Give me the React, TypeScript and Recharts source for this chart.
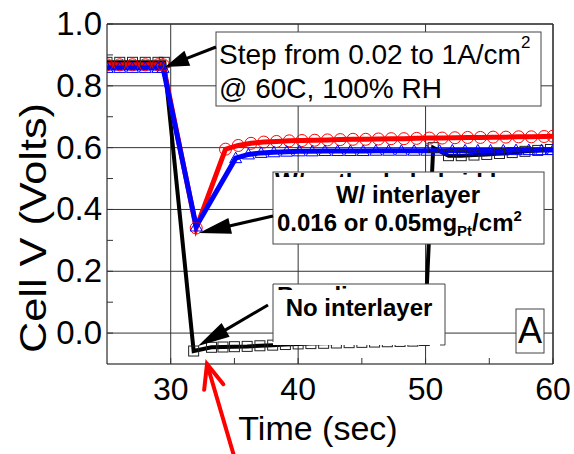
import { LineChart, Line, XAxis, YAxis, ReferenceLine, ReferenceArea } from 'recharts'

const FONT = '"Liberation Sans", Arial, Helvetica, sans-serif'

// axis ticks
const xTicks = [30, 35, 40, 45, 50, 55, 60]
const xMajor = [30, 40, 50, 60]
const yTicks = [0, 0.1, 0.2, 0.3, 0.4, 0.5, 0.6, 0.7, 0.8, 0.9, 1.0]
const yMajor = [0, 0.2, 0.4, 0.6, 0.8, 1.0]

// baseline MEA (no interlayer): time in s, cell voltage in V
const baseT = [25, 26, 27, 28, 29, 29.5, 31.8, 33.2, 34.1, 35, 36, 37, 38, 39, 40, 41, 42, 43, 44, 45, 46, 47, 48, 49, 49.9, 50.6, 51.8, 52.8, 53.8, 54.8, 55.8, 56.8, 57.8, 58.8, 59.8]
const baseV = [0.876, 0.876, 0.876, 0.876, 0.876, 0.876, -0.058, -0.046, -0.045, -0.044, -0.043, -0.041, -0.039, -0.037, -0.035, -0.034, -0.033, -0.032, -0.031, -0.030, -0.029, -0.028, -0.027, -0.026, -0.024, 0.600, 0.574, 0.574, 0.576, 0.578, 0.581, 0.584, 0.588, 0.591, 0.594]

// interlayer 0.05 mgPt/cm2
const redT = [25, 26, 27, 28, 29, 29.4, 32, 34.3, 35.3, 36.3, 37.3, 38.3, 39.3, 40.3, 41.3, 42.3, 43.3, 44.3, 45.3, 46.3, 47.3, 48.3, 49.3, 50.3, 51.3, 52.3, 53.3, 54.3, 55.3, 56.3, 57.3, 58.3, 59.3, 60]
const redV = [0.868, 0.868, 0.868, 0.868, 0.868, 0.868, 0.34, 0.595, 0.607, 0.614, 0.618, 0.620, 0.622, 0.623, 0.624, 0.625, 0.626, 0.627, 0.627, 0.628, 0.629, 0.629, 0.630, 0.631, 0.631, 0.632, 0.633, 0.633, 0.634, 0.634, 0.635, 0.635, 0.636, 0.637]

// interlayer 0.016 mgPt/cm2
const blueT = [25, 26, 27, 28, 29, 29.4, 32, 35.1, 36.1, 37.1, 38.1, 39.1, 40.1, 41.1, 42.1, 43.1, 44.1, 45.1, 46.1, 47.1, 48.1, 49.1, 50.1, 51.1, 52.1, 53.1, 54.1, 55.1, 56.1, 57.1, 58.1, 59.1, 60]
const blueV = [0.858, 0.858, 0.858, 0.858, 0.858, 0.858, 0.345, 0.566, 0.578, 0.583, 0.585, 0.587, 0.588, 0.588, 0.589, 0.589, 0.589, 0.589, 0.590, 0.590, 0.590, 0.590, 0.590, 0.590, 0.591, 0.591, 0.591, 0.591, 0.591, 0.592, 0.592, 0.592, 0.592]

const rows = (t: number[], v: number[]) => t.map((x, i) => ({ t: x, v: v[i] }))

const Circle = (p: any) => (
  <circle key={p.index} cx={p.cx} cy={p.cy} r={6} fill="none" stroke="#ff0000" strokeWidth={1} />
)
const Tri = (p: any) => (
  <polygon key={p.index} points={`${p.cx},${p.cy - 6} ${p.cx - 6},${p.cy + 4.5} ${p.cx + 6},${p.cy + 4.5}`} fill="none" stroke="#0000ff" strokeWidth={1} />
)
const Square = (p: any) => (
  <rect key={p.index} x={p.cx - 5} y={p.cy - 5} width={10} height={10} fill="none" stroke="#222" strokeWidth={1} />
)

const XTick = ({ x, y, payload }: any) => {
  const v = payload.value
  return (
    <g>
      <line x1={x} y1={y} x2={x} y2={y - 6} stroke="#333" />
      {xMajor.includes(v) && (
        <text x={x} y={y + 36} textAnchor="middle" fontSize={32} fontFamily={FONT} fill="#000">{v}</text>
      )}
    </g>
  )
}

const YTick = ({ x, y, payload }: any) => {
  const v = payload.value
  const major = yMajor.some(m => Math.abs(m - v) < 1e-6)
  return (
    <g>
      <line x1={x} y1={y} x2={x + 6} y2={y} stroke="#333" />
      {major && (
        <text x={x - 5} y={y + 11} textAnchor="end" fontSize={33} fontFamily={FONT} fill="#000">{v.toFixed(1)}</text>
      )}
    </g>
  )
}

function Arrow({ x1, y1, x2, y2, len = 26, half = 8, w = 3 }: any) {
  const d = Math.hypot(x2 - x1, y2 - y1)
  const ux = (x2 - x1) / d, uy = (y2 - y1) / d
  const bx = x2 - ux * len, by = y2 - uy * len
  return (
    <g>
      <line x1={x1} y1={y1} x2={bx + ux * 2} y2={by + uy * 2} stroke="#000" strokeWidth={w} />
      <polygon points={`${x2},${y2} ${bx - uy * half},${by + ux * half} ${bx + uy * half},${by - ux * half}`} fill="#000" />
    </g>
  )
}

function OpenArrow({ x1, y1, x2, y2, len = 24, half = 10, w = 4, color = '#ff0000' }: any) {
  const d = Math.hypot(x2 - x1, y2 - y1)
  const ux = (x2 - x1) / d, uy = (y2 - y1) / d
  const bx = x2 - ux * len, by = y2 - uy * len
  return (
    <g stroke={color} strokeWidth={w} strokeLinecap="round" fill="none">
      <line x1={x1} y1={y1} x2={x2} y2={y2} />
      <polyline points={`${bx - uy * half},${by + ux * half} ${x2},${y2} ${bx + uy * half},${by - ux * half}`} />
    </g>
  )
}

// boxed labels, arrows and axis titles drawn over the plot
function Notes() {
  return (
    <svg width={574} height={454} style={{ position: 'absolute', left: 0, top: 0, pointerEvents: 'none' }} fontFamily={FONT}>
      <defs>
        <clipPath id="oldTop1"><rect x={274} y={173} width={270} height={4} /></clipPath>
        <clipPath id="oldTop2"><rect x={274} y={285} width={170} height={5} /></clipPath>
      </defs>

      {/* step conditions */}
      <rect x={216} y={32} width={325} height={74} fill="#fff" stroke="#444" strokeWidth={1} />
      <text x={219} y={64} fontSize={28} fill="#000">Step from 0.02 to 1A/cm<tspan fontSize={17} dy={-16}>2</tspan></text>
      <text x={219} y={98} fontSize={28} fill="#000">@ 60C, 100% RH</text>
      <Arrow x1={216} y1={47} x2={165} y2={67} len={24} half={8} />

      {/* interlayer runs; the old caption only peeks out along the top edge */}
      <rect x={273} y={172} width={271} height={72} fill="#fff" stroke="#444" strokeWidth={1} />
      <text x={275} y={190} fontSize={24} fontWeight="bold" fill="#000" clipPath="url(#oldTop1)">W/ cathode hybrid layer</text>
      <text x={408} y={203} fontSize={24} fontWeight="bold" textAnchor="middle" fill="#000">W/ interlayer</text>
      <text x={277} y={231} fontSize={24} fontWeight="bold" fill="#000">
        0.016 or 0.05mg<tspan fontSize={15} dy={5}>Pt</tspan><tspan dy={-5}>/cm</tspan><tspan fontSize={15} dy={-10}>2</tspan>
      </text>
      <Arrow x1={273} y1={216} x2={199} y2={233} len={32} half={8} />

      {/* baseline run */}
      <rect x={273} y={284} width={172} height={61} fill="#fff" />
      <polyline points="273,342 273,284 445,284 445,345 440,345" fill="none" stroke="#444" strokeWidth={1} />
      <text x={277} y={304} fontSize={24} fontWeight="bold" fill="#000" clipPath="url(#oldTop2)">Baseline</text>
      <text x={359} y={316} fontSize={24} fontWeight="bold" textAnchor="middle" fill="#000">No interlayer</text>
      <Arrow x1={268} y1={305} x2={198} y2={346} len={32} half={8} />

      {/* panel letter */}
      <rect x={516} y={309} width={28} height={44} fill="#fff" stroke="#444" strokeWidth={1} />
      <text x={530} y={343} fontSize={36} textAnchor="middle" fill="#000">A</text>

      {/* axis titles */}
      <text x={318} y={440} fontSize={34} textAnchor="middle" fill="#000">Time (sec)</text>
      <text x={46} y={228} fontSize={37} textAnchor="middle" fill="#000" textLength={250} lengthAdjust="spacingAndGlyphs" transform="rotate(-90 46 228)">Cell V (Volts)</text>

      <OpenArrow x1={234} y1={456} x2={207} y2={364} />
    </svg>
  )
}

export default function App() {
  return (
    <div style={{ position: 'absolute', left: 0, top: 0, width: 574, height: 454, background: '#fff' }}>
      <LineChart width={574} height={454} margin={{ top: 24, right: 21, bottom: 0, left: 0 }}>
        <XAxis
          type="number" dataKey="t" domain={[25, 60]} ticks={xTicks} interval={0}
          height={90} axisLine={false} tickLine={false} tickSize={0} tickMargin={0}
          tick={<XTick />} allowDataOverflow
        />
        <YAxis
          type="number" dataKey="v" domain={[-0.1, 1.0]} ticks={yTicks} interval={0}
          width={107} axisLine={false} tickLine={false} tickSize={0} tickMargin={0}
          tick={<YTick />} allowDataOverflow
        />
        {xMajor.map(v => <ReferenceLine key={'x' + v} x={v} stroke="#333" strokeWidth={1} />)}
        {yMajor.map(v => <ReferenceLine key={'y' + v} y={v} stroke="#333" strokeWidth={1} />)}
        <ReferenceArea x1={25} x2={60} y1={-0.1} y2={1.0} fill="none" stroke="#000" strokeWidth={1} />
        {/* baseline drops to ~0 V, then recovers near 50 s */}
        <Line data={rows(baseT, baseV)} dataKey="v" stroke="#000" strokeWidth={4} dot={Square} isAnimationActive={false} />
        <Line data={rows(redT, redV)} dataKey="v" stroke="#ff0000" strokeWidth={5} dot={Circle} isAnimationActive={false} />
        <Line data={rows(blueT, blueV)} dataKey="v" stroke="#0000ff" strokeWidth={5} dot={Tri} isAnimationActive={false} />
      </LineChart>
      <Notes />
    </div>
  )
}
